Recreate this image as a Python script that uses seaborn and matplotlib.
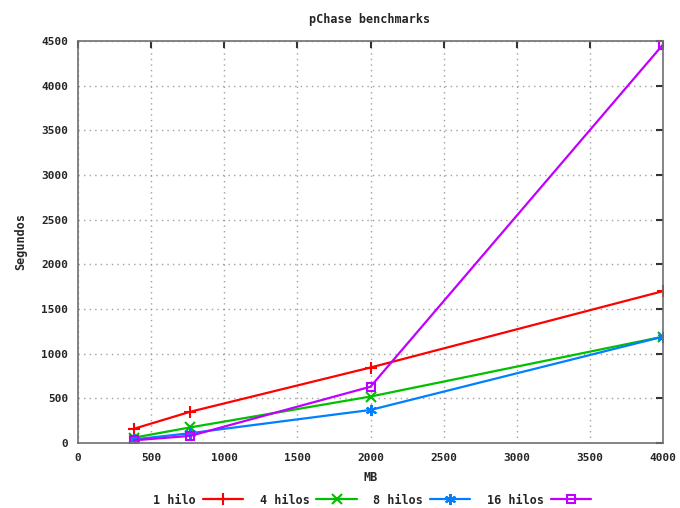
import matplotlib
matplotlib.use("Agg")
import matplotlib.pyplot as plt
import seaborn as sns
import pandas as pd

mb = [384, 768, 2000, 4000]
hilo1 = [160, 350, 845, 1700]
hilos4 = [60, 175, 520, 1190]
hilos8 = [40, 110, 370, 1190]
hilos16 = [30, 80, 630, 4460]
labels = ["1 hilo", "4 hilos", "8 hilos", "16 hilos"]
series = [hilo1, hilos4, hilos8, hilos16]
colors = ["#ff0000", "#00c000", "#0080ff", "#c000ff"]
markers = ["+", "x", (6, 2, 0), "s"]
msizes = [8, 6.5, 8, 6]

sns.set_style("white")
plt.rcParams['font.family'] = ['DejaVu Sans Mono', 'DejaVu Sans']
plt.rcParams['font.weight'] = 'bold'

fig = plt.figure(figsize=(6.8, 5.08), dpi=100)
ax = fig.add_axes([78/680, 1-443/508, (663-78)/680, (443-41)/508])

for lab, vals, c, m, ms in zip(labels, series, colors, markers, msizes):
    df = pd.DataFrame({"MB": mb, "s": vals})
    sns.lineplot(data=df, x="MB", y="s", ax=ax, color=c, marker=m, markersize=ms,
                 markeredgewidth=1.5, markeredgecolor=c, markerfacecolor="none",
                 linewidth=1.6, label=lab)

ax.set_xlim(0, 4000)
ax.set_ylim(0, 4500)
ax.set_xticks(range(0, 4001, 500))
ax.set_yticks(range(0, 4501, 500))
ax.grid(True, linestyle=(0, (1, 3)), color="#a0a0a0", linewidth=1)
ax.tick_params(direction="in", length=5, width=1.5, top=True, right=True,
               labelsize=8, pad=7, color="#333333")
for lbl in ax.get_xticklabels() + ax.get_yticklabels():
    lbl.set_fontweight("bold")
for sp in ax.spines.values():
    sp.set_color("#707070")
    sp.set_linewidth(1.2)

ax.set_xlabel("MB", fontsize=8.5, fontweight="bold", labelpad=6)
ax.set_ylabel("Segundos", fontsize=8.5, fontweight="bold", labelpad=10)
fig.text(370/680, 1-19/508, "pChase benchmarks", ha="center", va="center",
         fontsize=8.5, fontweight="bold")

leg = ax.legend(loc="center", bbox_to_anchor=(372/680, 1-500/508),
                bbox_transform=fig.transFigure, ncol=4, frameon=False,
                markerfirst=False, handlelength=3.4,
                columnspacing=1.4, handletextpad=0.6,
                prop={"weight": "bold", "size": 8.5, "family": "DejaVu Sans Mono"})

fig.savefig("out.png", dpi=100)
